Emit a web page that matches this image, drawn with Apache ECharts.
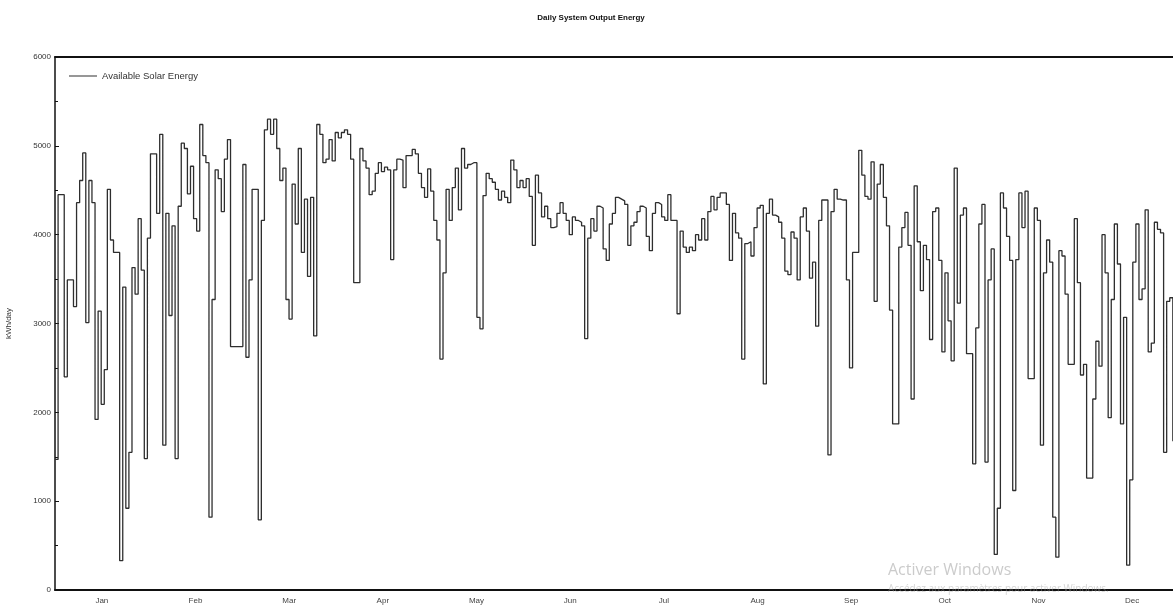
<!DOCTYPE html>
<html>
<head>
<meta charset="utf-8">
<title>Daily System Output Energy</title>
<script src="https://cdn.jsdelivr.net/npm/echarts@6/dist/echarts.min.js"></script>
<style>
  html, body { margin: 0; padding: 0; overflow: hidden; background: #fff; }
  #chart { width: 1180px; height: 608px; }
</style>
</head>
<body>
<div id="chart"></div>
<script>
// Daily available solar energy, kWh/day, one value per day of the year
const jan = [1470, 4450, 4450, 2400, 3490, 3490, 3190, 4360, 4610, 4920, 3010, 4610, 4360, 1920, 3140, 2090, 2480, 4510, 3940, 3800, 3800, 330, 3410, 920, 1550, 3630, 3330, 4180, 3600, 1480, 3960];
const feb = [4910, 4910, 4240, 5130, 1630, 4240, 3090, 4100, 1480, 4320, 5030, 4970, 4460, 4770, 4180, 4040, 5240, 4890, 4810, 820, 3270, 4730, 4630, 4260, 4850, 5070, 2740, 2740];
const mar = [2740, 2740, 4790, 2620, 3490, 4510, 4510, 790, 4160, 5180, 5300, 5130, 5300, 4970, 4610, 4750, 3270, 3050, 4570, 4120, 4970, 3800, 4400, 3530, 4420, 2860, 5240, 5130, 4810, 4850, 5070];
const apr = [4830, 5150, 5090, 5150, 5180, 5130, 4850, 3460, 3460, 4970, 4830, 4750, 4450, 4490, 4690, 4810, 4710, 4760, 4730, 3720, 4730, 4850, 4840, 4530, 4890, 4890, 4960, 4910, 4690, 4530];
const may = [4420, 4740, 4490, 4160, 3940, 2600, 3570, 4510, 4160, 4530, 4750, 4280, 4970, 4750, 4790, 4810, 4810, 3070, 2940, 4440, 4690, 4630, 4590, 4510, 4390, 4490, 4420, 4360, 4840, 4730, 4530];
const jun = [4610, 4530, 4630, 4430, 3880, 4670, 4470, 4200, 4320, 4180, 4080, 4090, 4240, 4360, 4240, 4160, 4000, 4200, 4160, 4140, 4100, 2830, 3960, 4180, 4040, 4320, 4300, 3840, 3710, 4120];
const jul = [4240, 4420, 4400, 4380, 4340, 3880, 4100, 4140, 4260, 4320, 4300, 3980, 3820, 4240, 4360, 4340, 4200, 4160, 4450, 4160, 4160, 3110, 4040, 3860, 3800, 3860, 3820, 4000, 3940, 4180, 3940];
const aug = [4260, 4430, 4280, 4420, 4470, 4470, 4340, 3710, 4240, 4020, 3960, 2600, 3900, 3920, 3760, 4080, 4300, 4330, 2320, 4240, 4400, 4220, 4200, 4140, 3960, 3590, 3550, 4030, 3960, 3490, 4200];
const sep = [4300, 4040, 3510, 3690, 2970, 4160, 4390, 4390, 1520, 4260, 4510, 4400, 4390, 4390, 3490, 2500, 3800, 3800, 4950, 4670, 4430, 4400, 4820, 3250, 4570, 4790, 4420, 4100, 3150, 1870];
const oct = [1870, 3860, 4080, 4250, 3880, 2150, 4550, 3920, 3370, 3880, 3720, 2820, 4260, 4300, 3710, 2680, 3570, 3030, 2580, 4750, 3230, 4220, 4300, 2660, 2660, 1420, 2950, 4120, 4340, 1440, 3490];
const nov = [3840, 400, 920, 4470, 4300, 3980, 3710, 1120, 3720, 4470, 4080, 4490, 2380, 2380, 4300, 4160, 1630, 3570, 3940, 3690, 820, 370, 3820, 3760, 3330, 2540, 2540, 4180, 3460, 2420];
const dec = [2540, 1260, 1260, 2150, 2800, 2520, 4000, 3570, 1940, 3270, 4120, 3670, 1870, 3070, 280, 1240, 3690, 4120, 3270, 3390, 4280, 2680, 2780, 4140, 4060, 4020, 1550, 3250, 3290, 1680, 1650];

const months = ['Jan', 'Feb', 'Mar', 'Apr', 'May', 'Jun', 'Jul', 'Aug', 'Sep', 'Oct', 'Nov', 'Dec'];
const yTicks = [0, 1000, 2000, 3000, 4000, 5000, 6000];

const daily = [].concat(jan, feb, mar, apr, may, jun, jul, aug, sep, oct, nov, dec);
// each day is held flat over [d, d+1]
const points = daily.map((v, i) => [i, v]);
points.push([daily.length, daily[daily.length - 1]]);

const font = 'Liberation Sans, Arial, sans-serif';
const axisColor = '#111';

const chart = echarts.init(document.getElementById('chart'));
chart.setOption({
  animation: false,
  backgroundColor: '#ffffff',
  textStyle: { fontFamily: font },
  title: {
    text: 'Daily System Output Energy',
    left: 586,
    textAlign: 'center',
    top: 9,
    textStyle: { fontSize: 8, fontWeight: 'bold', color: '#111', fontFamily: font }
  },
  legend: {
    data: ['Available Solar Energy'],
    left: 64,
    top: 66,
    padding: 5,
    icon: 'rect',
    itemWidth: 28,
    itemHeight: 1,
    itemGap: 5,
    textStyle: { fontSize: 9.5, color: '#333', fontFamily: font }
  },
  grid: { left: 55, right: 1, top: 57, bottom: 18, outerBoundsMode: 'none', containLabel: false },
  xAxis: [
    { type: 'value', min: 0, max: daily.length, show: false },
    {
      type: 'category', data: months, position: 'bottom', boundaryGap: true,
      axisLine: { lineStyle: { color: axisColor, width: 2 } },
      axisTick: { inside: true, length: 5, lineStyle: { color: axisColor, width: 1 } },
      axisLabel: { fontSize: 8, color: '#444', margin: 7, fontFamily: font },
      splitLine: { show: false }
    },
    {
      type: 'category', data: months, position: 'top', boundaryGap: true,
      axisLine: { lineStyle: { color: axisColor, width: 2 } },
      axisTick: { inside: true, length: 5, lineStyle: { color: axisColor, width: 1 } },
      axisLabel: { show: false },
      splitLine: { show: false }
    }
  ],
  yAxis: [
    {
      type: 'value', min: yTicks[0], max: yTicks[yTicks.length - 1], interval: 1000,
      name: 'kWh/day', nameLocation: 'middle', nameGap: 42, nameRotate: 90,
      nameTextStyle: { fontSize: 8, color: '#333', fontFamily: font },
      axisLine: { show: true, lineStyle: { color: axisColor, width: 1.5 } },
      axisTick: { show: true, inside: true, length: 4, lineStyle: { color: axisColor } },
      minorTick: { show: true, splitNumber: 2, length: 3, lineStyle: { color: axisColor } },
      axisLabel: { fontSize: 8, color: '#333', margin: 4, fontFamily: font, formatter: v => String(v) },
      splitLine: { show: false }
    },
    {
      type: 'value', position: 'right', min: yTicks[0], max: yTicks[yTicks.length - 1], interval: 1000,
      axisLine: { show: true, lineStyle: { color: axisColor, width: 1.5 } },
      axisTick: { show: true, inside: true, length: 4, lineStyle: { color: axisColor } },
      minorTick: { show: true, splitNumber: 2, length: 3, lineStyle: { color: axisColor } },
      axisLabel: { show: false },
      splitLine: { show: false }
    }
  ],
  series: [{
    name: 'Available Solar Energy',
    type: 'line',
    xAxisIndex: 0,
    yAxisIndex: 0,
    step: 'end',
    data: points,
    symbol: 'none',
    lineStyle: { color: '#2e2e2e', width: 1.3 },
    itemStyle: { color: '#2e2e2e' }
  }],
  graphic: [
    {
      type: 'text', left: 888, top: 562, z: 100, silent: true,
      style: { text: 'Activer Windows', fontSize: 16, fontFamily: 'Open Sans, Noto Sans, sans-serif', fill: 'rgba(160,160,160,0.55)' }
    },
    {
      type: 'text', left: 888, top: 584, z: 100, silent: true,
      style: { text: 'Accédez aux paramètres pour activer Windows.', fontSize: 10, fontFamily: 'Open Sans, Noto Sans, sans-serif', fill: 'rgba(160,160,160,0.45)' }
    }
  ]
});
</script>
</body>
</html>
